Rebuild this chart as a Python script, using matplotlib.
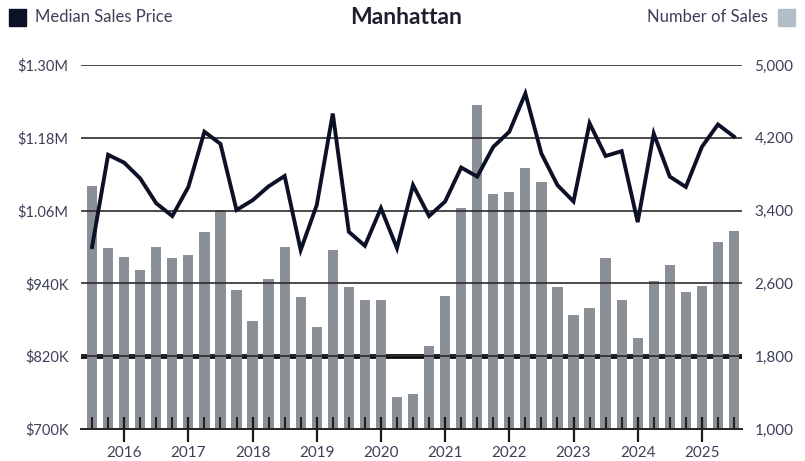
import matplotlib.pyplot as plt
import numpy as np
from matplotlib.patches import Rectangle

# Quarterly series, 2015 Q3 through 2025 Q3
QUARTERS = [f"{y}Q{q}" for y in range(2015, 2026) for q in range(1, 5)][2:43]

MEDIAN_PRICE_K = [
    1000, 1152, 1139, 1113, 1072, 1051, 1099, 1190, 1170, 1061,
    1077, 1100, 1117, 995, 1069, 1220, 1025, 1002, 1064, 998,
    1102, 1051, 1075, 1131, 1116, 1165, 1190, 1253, 1154, 1102,
    1075, 1204, 1150, 1158, 1041, 1187, 1116, 1099, 1165, 1202,
    1182,
]
NUM_SALES = [
    3670, 2986, 2894, 2747, 3003, 2876, 2912, 3168, 3407, 2527,
    2190, 2648, 3003, 2447, 2124, 2967, 2564, 2418, 2418, 1355,
    1381, 1915, 2465, 3432, 4560, 3582, 3608, 3865, 3718, 2557,
    2253, 2333, 2876, 2418, 1997, 2630, 2802, 2509, 2571, 3058,
    3176,
]
YEARS = list(range(2016, 2026))

PRICE_TICKS = [700, 820, 940, 1060, 1180, 1300]
PRICE_LABELS = ["$700K", "$820K", "$940K", "$1.06M", "$1.18M", "$1.30M"]
SALES_TICKS = [1000, 1800, 2600, 3400, 4200, 5000]
SALES_LABELS = ["1,000", "1,800", "2,600", "3,400", "4,200", "5,000"]

LINE_COLOR = "#0d1128"
BAR_COLOR = "#8b8f96"
SALES_KEY = "#b3bdca"
TEXT_COLOR = "#3d4058"
GRID_COLOR = "#2b2b2b"

plt.rcParams["font.family"] = ["Lato", "DejaVu Sans"]

fig = plt.figure(figsize=(8.05, 4.61), dpi=100)
ax = fig.add_axes([81 / 805, 1 - 429 / 461, (742 - 81) / 805, (429 - 65) / 461])
ax2 = ax.twinx()
ax.set_zorder(ax2.get_zorder() + 1)
ax.patch.set_visible(False)

x = np.arange(len(QUARTERS))

# sales bars on the right-hand axis
ax2.bar(x, NUM_SALES, width=0.64, color=BAR_COLOR, zorder=2)
ax2.set_ylim(1000, 5000)
ax2.axhline(1800, color="#050505", lw=3.4, zorder=1)
for t in SALES_TICKS[1:]:
    ax2.axhline(t, color=GRID_COLOR, lw=1.2, zorder=3)
ax2.set_yticks(SALES_TICKS, SALES_LABELS)

# median price line on the left-hand axis
ax.plot(x, MEDIAN_PRICE_K, color=LINE_COLOR, lw=2.8, solid_joinstyle="miter", zorder=5)
ax.set_ylim(700, 1300)
ax.set_xlim(-0.69, 40.5)
ax.set_yticks(PRICE_TICKS, PRICE_LABELS)

# quarter ticks inside, year ticks crossing the baseline
year_pos = [QUARTERS.index(f"{y}Q1") for y in YEARS]
ax.set_xticks(year_pos, [str(y) for y in YEARS])
ax.set_xticks([i for i in x if i not in year_pos], minor=True)
ax.tick_params(axis="x", which="major", direction="inout", length=18, width=1.6,
               color="#1a1a1a", labelsize=11, labelcolor=TEXT_COLOR, pad=3)
ax.tick_params(axis="x", which="minor", direction="in", length=9, width=1.5,
               color="#222222")
ax.tick_params(axis="y", length=0, labelsize=10.5, labelcolor=TEXT_COLOR, pad=9)
ax2.tick_params(axis="y", length=0, labelsize=11, labelcolor=TEXT_COLOR, pad=9)

for a in (ax, ax2):
    for name, s in a.spines.items():
        s.set_visible(name == "bottom")
ax.spines["bottom"].set_color("#222222")
ax.spines["bottom"].set_linewidth(1.4)
ax2.spines["bottom"].set_visible(False)

# header: legend keys and title
fig.patches.append(Rectangle((9 / 805, 1 - 26 / 461), 17 / 805, 17 / 461,
                             transform=fig.transFigure, color=LINE_COLOR))
fig.text(35 / 805, 1 - 17 / 461, "Median Sales Price", ha="left", va="center",
         fontsize=12, color=TEXT_COLOR)
fig.patches.append(Rectangle((778 / 805, 1 - 26 / 461), 17 / 805, 17 / 461,
                             transform=fig.transFigure, color=SALES_KEY))
fig.text(768 / 805, 1 - 17 / 461, "Number of Sales", ha="right", va="center",
         fontsize=12, color=TEXT_COLOR)
fig.text(406 / 805, 1 - 18 / 461, "Manhattan", ha="center", va="center",
         fontsize=16.5, fontweight="bold", color="#1e2030")

fig.savefig("out.png", dpi=100)
